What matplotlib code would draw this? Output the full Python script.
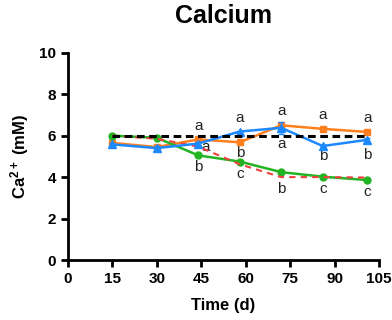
import matplotlib
matplotlib.use("Agg")
import matplotlib.pyplot as plt

plt.rcParams["font.family"] = ["Liberation Sans", "DejaVu Sans"]
plt.rcParams["mathtext.fontset"] = "custom"
plt.rcParams["mathtext.rm"] = "Liberation Sans"
plt.rcParams["mathtext.bf"] = "Liberation Sans:bold"
plt.rcParams["mathtext.default"] = "bf"

time = [15, 30, 44, 58, 72, 86, 101]
orange = [5.65, 5.45, 5.82, 5.68, 6.50, 6.33, 6.18]
orange_err = [0.08, 0.10, 0.08, 0.05, 0.08, 0.05, 0.05]
blue = [5.58, 5.40, 5.62, 6.20, 6.38, 5.50, 5.80]
blue_err = [0.08, 0.08, 0.06, 0.05, 0.30, 0.06, 0.10]
green = [6.00, 5.90, 5.05, 4.75, 4.24, 4.02, 3.86]
green_err = [0.05, 0.05, 0.05, 0.05, 0.05, 0.05, 0.05]
red = [6.00, 5.85, 5.47, 4.62, 4.00, 4.00, 3.98]
control = [6.0] * len(time)

# significance letters: (x, y, text)
letter_x = [44, 44, 44, 58, 58, 58, 72, 72, 72, 86, 86, 86, 101, 101, 101]
letter_y = [6.45, 5.45, 4.5, 6.85, 5.15, 4.15, 7.2, 5.6, 3.45, 7.0, 5.0, 3.45, 6.85, 5.05, 3.3]
letter_t = ["a", "a", "b", "a", "b", "c", "a", "a", "b", "a", "b", "c", "a", "b", "c"]
letter_dx = [0, 2.5, 0, 0, 0, 0, 0, 0, 0, 0, 0, 0, 0, 0, 0]

fig = plt.figure(figsize=(3.92, 3.2), dpi=100)
ax = fig.add_axes([0.173, 0.1875, 0.794, 0.6475])

c_or = "#FF7F1E"
c_bl = "#1E88FF"
c_gr = "#22B422"
c_rd = "#EE4040"

ax.plot(time, control, color="black", lw=2.2, ls=(0, (2.5, 1.5)), zorder=5)
ax.errorbar(time, orange, yerr=orange_err, color=c_or, marker="s", ms=5, lw=1.8,
            capsize=2.5, elinewidth=1, zorder=3)
ax.errorbar(time, blue, yerr=blue_err, color=c_bl, marker="^", ms=5.5, lw=1.8,
            capsize=2.5, elinewidth=1, zorder=4)
ax.errorbar(time, green, yerr=green_err, color=c_gr, marker="o", ms=5, lw=1.8,
            capsize=2, elinewidth=1, zorder=3)
ax.plot(time, red, color=c_rd, lw=1.5, ls=(0, (3, 2.5)), zorder=4)

for x, y, t, dx in zip(letter_x, letter_y, letter_t, letter_dx):
    ax.text(x + dx, y, t, ha="center", va="center", fontsize=11, color="#222222")

ax.set_xlim(0, 105)
ax.set_ylim(0, 10)
ax.set_xticks([0, 15, 30, 45, 60, 75, 90, 105])
ax.set_yticks([0, 2, 4, 6, 8, 10])
for s in ["top", "right"]:
    ax.spines[s].set_visible(False)
for s in ["left", "bottom"]:
    ax.spines[s].set_linewidth(2)
ax.tick_params(width=2, length=5, labelsize=11, direction="out")
for lab in ax.get_xticklabels() + ax.get_yticklabels():
    lab.set_fontweight("bold")

ax.set_xlabel("Time (d)", fontsize=12, fontweight="bold", labelpad=9)
ax.set_ylabel("Ca$^{2+}$ (mM)", fontsize=12, fontweight="bold", labelpad=6)
fig.text(0.57, 0.95, "Calcium", ha="center", va="center", fontsize=18, fontweight="bold")

fig.savefig("out.png", dpi=100)
